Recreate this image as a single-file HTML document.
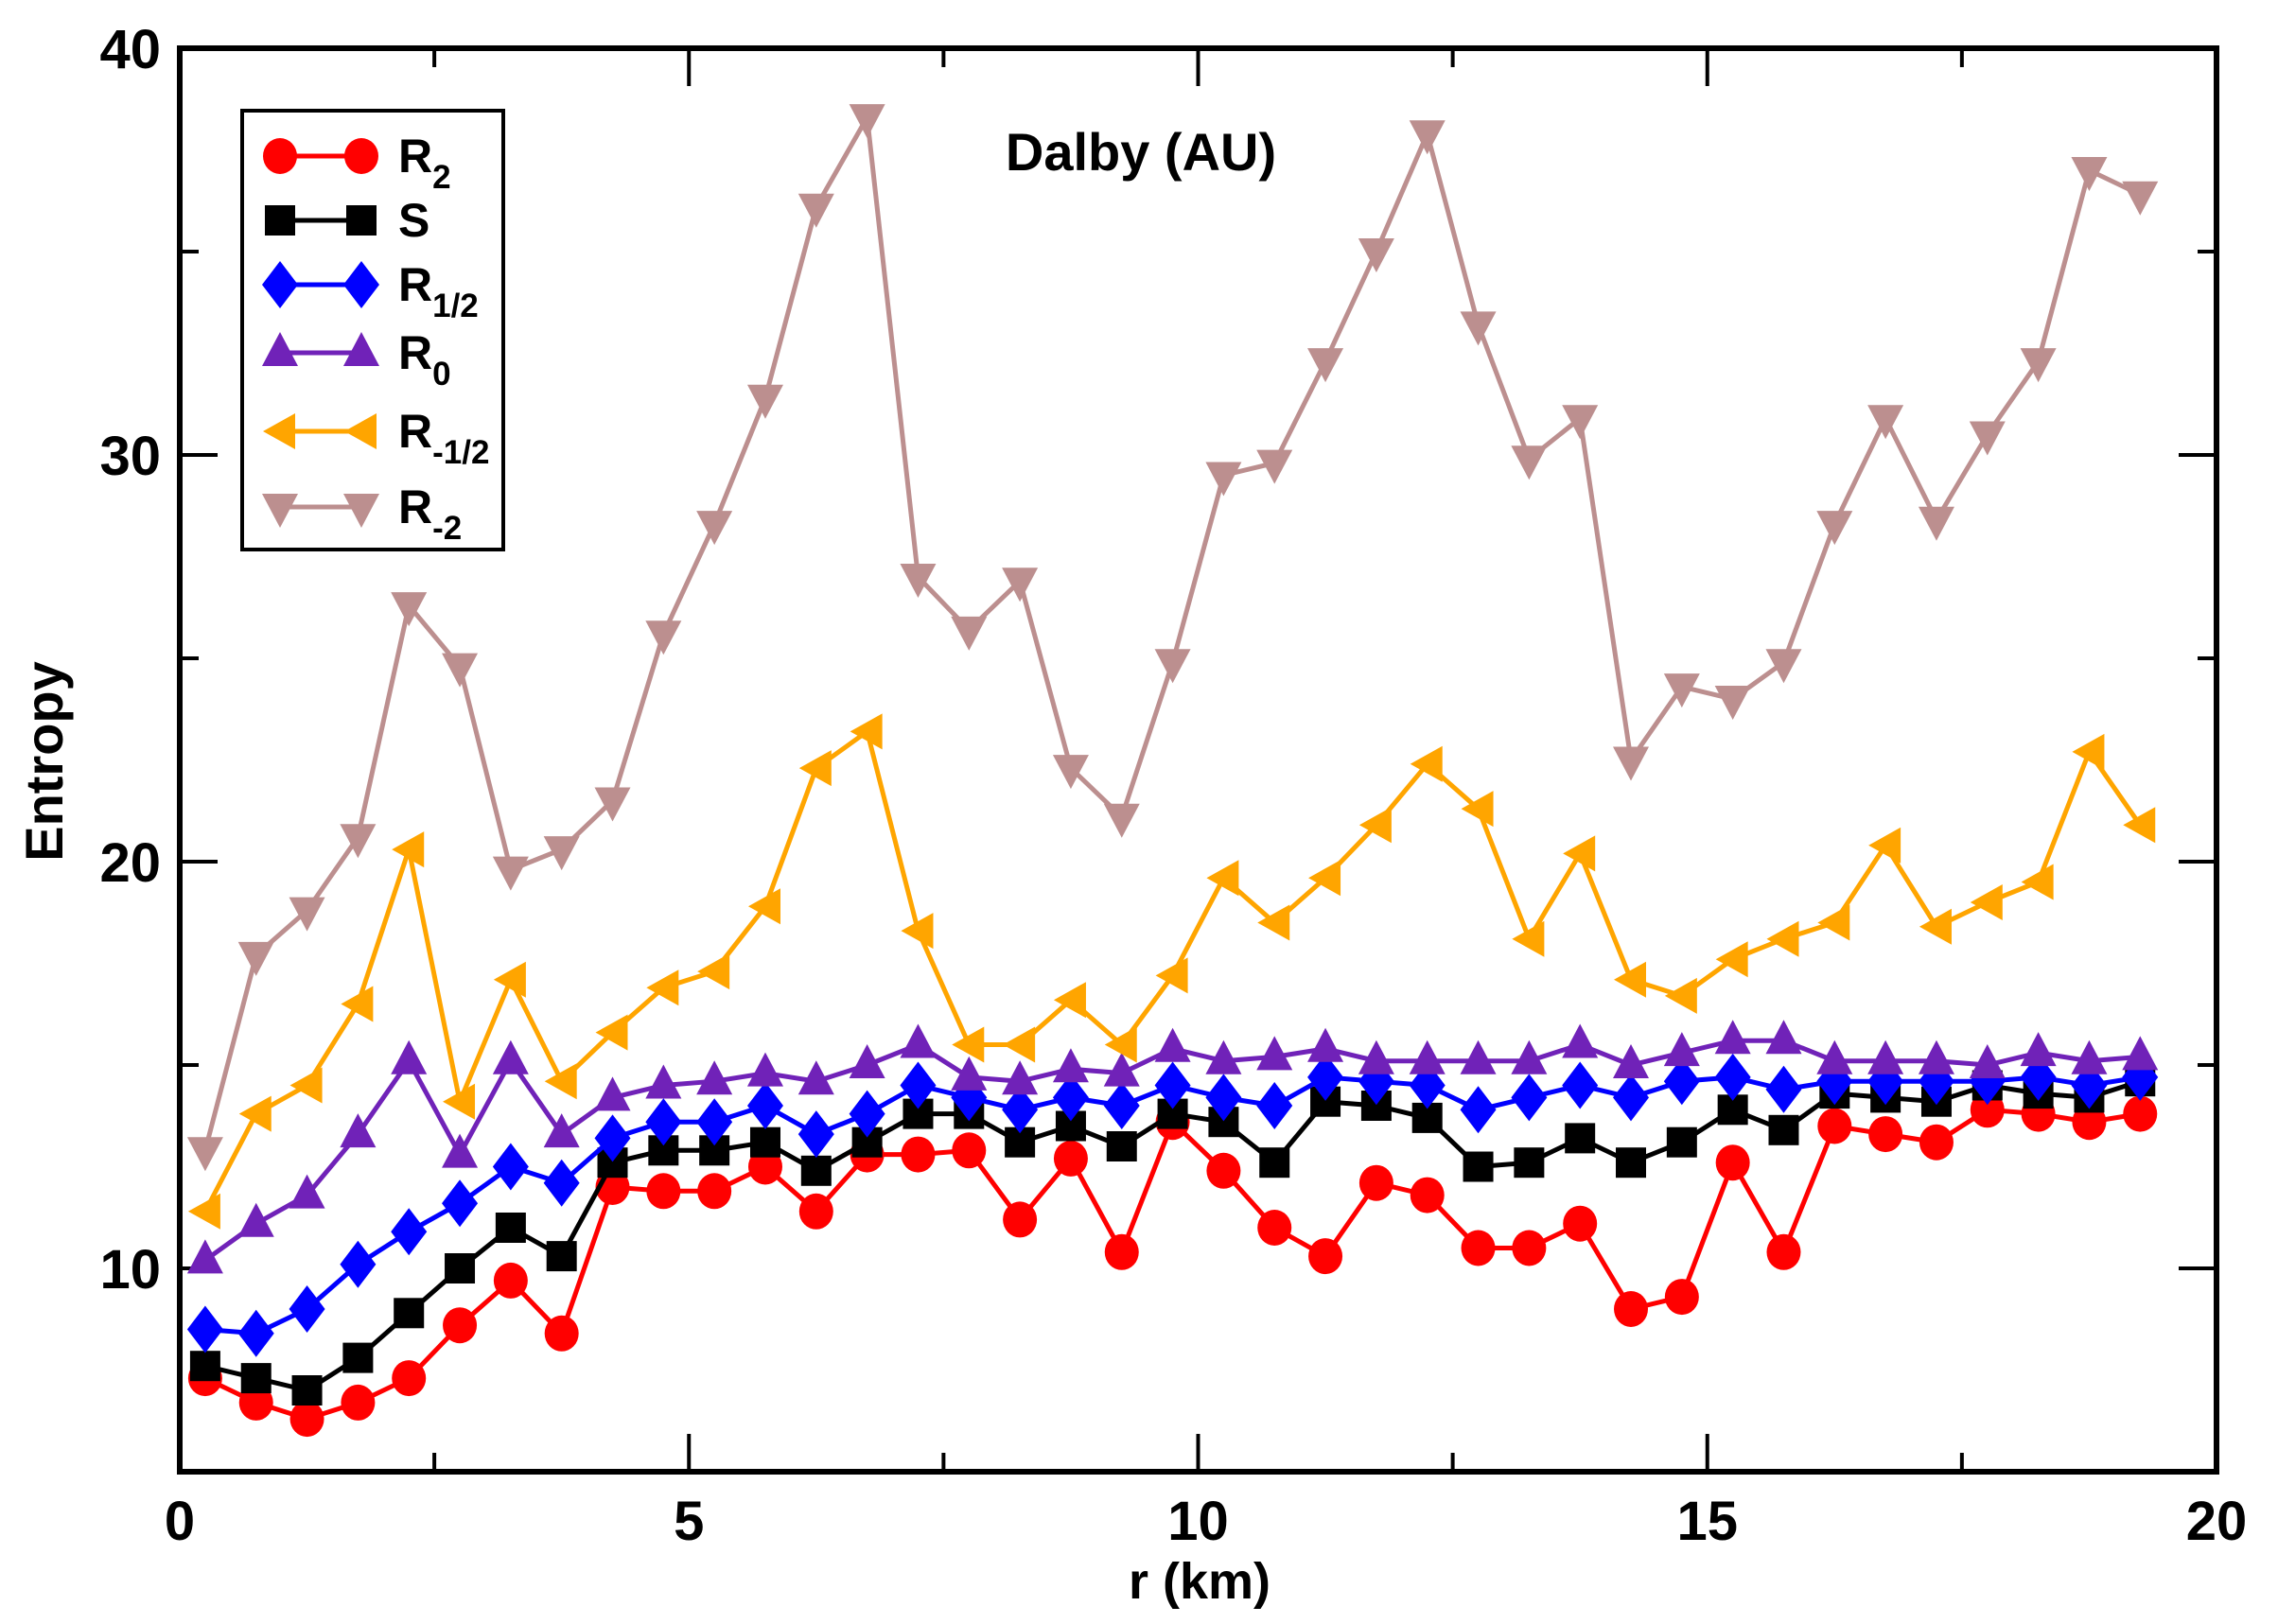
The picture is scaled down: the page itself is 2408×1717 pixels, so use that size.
<!DOCTYPE html>
<html><head><meta charset="utf-8"><style>
html,body{margin:0;padding:0;background:#fff;}
svg{display:block;}
text{font-family:"Liberation Sans",Arial,sans-serif;font-weight:bold;fill:#000;}
</style></head><body>
<svg id="chart" width="2408" height="1717" viewBox="0 0 2408 1717" xmlns="http://www.w3.org/2000/svg">
<g id="grid"></g>
<g id="series"></g>
<g id="legend"></g>
<text x="1206" y="180" font-size="56" text-anchor="middle">Dalby (AU)</text>
<text x="1268" y="1690" font-size="54" text-anchor="middle">r (km)</text>
<text transform="translate(66,805) rotate(-90)" font-size="56" text-anchor="middle">Entropy</text>
</svg>
<script>
const xs = [0.25,0.75,1.25,1.75,2.25,2.75,3.25,3.75,4.25,4.75,5.25,5.75,6.25,6.75,7.25,7.75,8.25,8.75,9.25,9.75,10.25,10.75,11.25,11.75,12.25,12.75,13.25,13.75,14.25,14.75,15.25,15.75,16.25,16.75,17.25,17.75,18.25,18.75,19.25];
const r2 = [7.3,6.7,6.3,6.7,7.3,8.6,9.7,8.4,12.0,11.9,11.9,12.5,11.4,12.8,12.8,12.9,11.2,12.7,10.4,13.6,12.4,11.0,10.3,12.1,11.8,10.5,10.5,11.1,9.0,9.3,12.6,10.4,13.5,13.3,13.1,13.9,13.8,13.6,13.8];
const sVals = [7.6,7.3,7.0,7.8,8.9,10.0,11.0,10.3,12.6,12.9,12.9,13.1,12.4,13.1,13.8,13.8,13.1,13.5,13.0,13.8,13.6,12.6,14.1,14.0,13.7,12.5,12.6,13.2,12.6,13.1,13.9,13.4,14.3,14.2,14.1,14.5,14.3,14.2,14.6];
const rHalf = [8.5,8.4,9.0,10.1,10.9,11.6,12.5,12.1,13.2,13.6,13.6,14.0,13.3,13.8,14.5,14.2,13.9,14.2,14.0,14.5,14.2,14.0,14.7,14.6,14.5,13.9,14.2,14.5,14.2,14.6,14.7,14.4,14.6,14.6,14.6,14.6,14.7,14.5,14.7];
const r0 = [10.2,11.1,11.8,13.3,15.1,12.8,15.1,13.3,14.2,14.5,14.6,14.8,14.6,15.0,15.5,14.7,14.6,14.9,14.8,15.4,15.1,15.2,15.4,15.1,15.1,15.1,15.1,15.5,15.0,15.3,15.6,15.6,15.1,15.1,15.1,15.0,15.3,15.1,15.2];
const rMHalf = [11.4,13.8,14.5,16.5,20.3,14.1,17.1,14.6,15.8,16.9,17.3,18.9,22.3,23.2,18.3,15.5,15.5,16.6,15.5,17.2,19.6,18.5,19.6,20.9,22.4,21.3,18.1,20.2,17.1,16.7,17.6,18.1,18.5,20.4,18.4,19.0,19.5,22.7,20.9];
const rM2 = [12.9,17.7,18.8,20.6,26.3,24.8,19.8,20.3,21.5,25.6,28.3,31.4,36.1,38.3,27.0,25.7,26.9,22.3,21.1,24.9,29.5,29.8,32.3,35.0,37.9,33.2,29.9,30.9,22.5,24.3,24.0,24.9,28.3,30.9,28.4,30.5,32.3,37.0,36.4];
const xTicks = [0,5,10,15,20];
const yTicks = [10,20,30,40];

const NS="http://www.w3.org/2000/svg";
const L=190,R=2343,T=51,B=1556,XMIN=0,XMAX=20,YMIN=5,YMAX=40;
const sx=v=>L+(v-XMIN)/(XMAX-XMIN)*(R-L);
const sy=v=>B-(v-YMIN)/(YMAX-YMIN)*(B-T);
function mk(tag,attrs,parent){const e=document.createElementNS(NS,tag);for(const k in attrs)e.setAttribute(k,attrs[k]);parent.appendChild(e);return e;}
const grid=document.getElementById('grid');
for(let v=0;v<=20;v+=2.5){
  const major=v%5===0,len=major?40:20,x=sx(v);
  const t1=mk('line',{x1:x,y1:B,x2:x,y2:B-len,stroke:'#000','stroke-width':4},grid);
  
  
  const t2=mk('line',{x1:x,y1:T,x2:x,y2:T+len,stroke:'#000','stroke-width':4},grid);
  
  
}
for(let v=5;v<=40;v+=5){
  const major=v%10===0,len=major?40:20,y=sy(v);
  const t1=mk('line',{x1:L,y1:y,x2:L+len,y2:y,stroke:'#000','stroke-width':4},grid);
  
  
  const t2=mk('line',{x1:R,y1:y,x2:R-len,y2:y,stroke:'#000','stroke-width':4},grid);
  
  
}
xTicks.forEach(v=>{
  const t=mk('text',{x:sx(v),y:1628,'font-size':58,'text-anchor':'middle'},grid);t.textContent=v;
  
  
});
yTicks.forEach(v=>{
  const t=mk('text',{x:170,y:sy(v)+21,'font-size':58,'text-anchor':'end'},grid);t.textContent=v;
  
  
});
const frame=mk('rect',{x:L,y:T,width:R-L,height:B-T,fill:'none',stroke:'#000','stroke-width':6},grid);



function marker(shape,x,y,color,parent){
  let e;
  if(shape==='circle') e=mk('ellipse',{cx:x,cy:y,rx:18,ry:19,fill:color},parent);
  else if(shape==='square') e=mk('rect',{x:x-16,y:y-16,width:32,height:32,fill:color},parent);
  else if(shape==='diamond') e=mk('polygon',{points:`${x},${y-25} ${x+19},${y} ${x},${y+25} ${x-19},${y}`,fill:color},parent);
  else if(shape==='up') e=mk('polygon',{points:`${x},${y-22} ${x+19},${y+14} ${x-19},${y+14}`,fill:color},parent);
  else if(shape==='down') e=mk('polygon',{points:`${x},${y+22} ${x+19},${y-14} ${x-19},${y-14}`,fill:color},parent);
  else if(shape==='left') e=mk('polygon',{points:`${x-18},${y} ${x+16},${y-19} ${x+16},${y+19}`,fill:color},parent);
  return e;
}
const seriesDefs=[
  {vals:r2,color:'#ff0000',shape:'circle',name:'r2',lab:'R',sub:'2'},
  {vals:sVals,color:'#000000',shape:'square',name:'s',lab:'S',sub:''},
  {vals:rHalf,color:'#0000ff',shape:'diamond',name:'r-half',lab:'R',sub:'1/2'},
  {vals:r0,color:'#7022b8',shape:'up',name:'r0',lab:'R',sub:'0'},
  {vals:rMHalf,color:'#ffa500',shape:'left',name:'r-minus-half',lab:'R',sub:'-1/2'},
  {vals:rM2,color:'#bc8f8f',shape:'down',name:'r-minus-2',lab:'R',sub:'-2'}
];
const sg=document.getElementById('series');
seriesDefs.forEach(s=>{
  const g=mk('g',{},sg);
  
  
  const pts=xs.map((x,i)=>sx(x)+','+sy(s.vals[i])).join(' ');
  const pl=mk('polyline',{points:pts,fill:'none',stroke:s.color,'stroke-width':5,'stroke-linejoin':'miter'},g);
  
  
  xs.forEach((x,i)=>{
    const m=marker(s.shape,sx(x),sy(s.vals[i]),s.color,g);
    
    
  });
});
const lg=document.getElementById('legend');
const box=mk('rect',{x:256,y:117,width:276,height:464,fill:'#fff',stroke:'#000','stroke-width':4},lg);


const ly=[165,233,301,373,456,536];
seriesDefs.forEach((s,i)=>{
  const g=mk('g',{},lg);
  
  
  const y=ly[i];
  mk('line',{x1:296,y1:y,x2:382,y2:y,stroke:s.color,'stroke-width':5},g);
  marker(s.shape,296,y,s.color,g);
  marker(s.shape,382,y,s.color,g);
  const t=mk('text',{x:421,y:y+17,'font-size':50},g);
  t.textContent=s.lab;
  if(s.sub){const ts=mk('tspan',{dy:17,'font-size':35},t);ts.textContent=s.sub;}
});
</script>
</body></html>
